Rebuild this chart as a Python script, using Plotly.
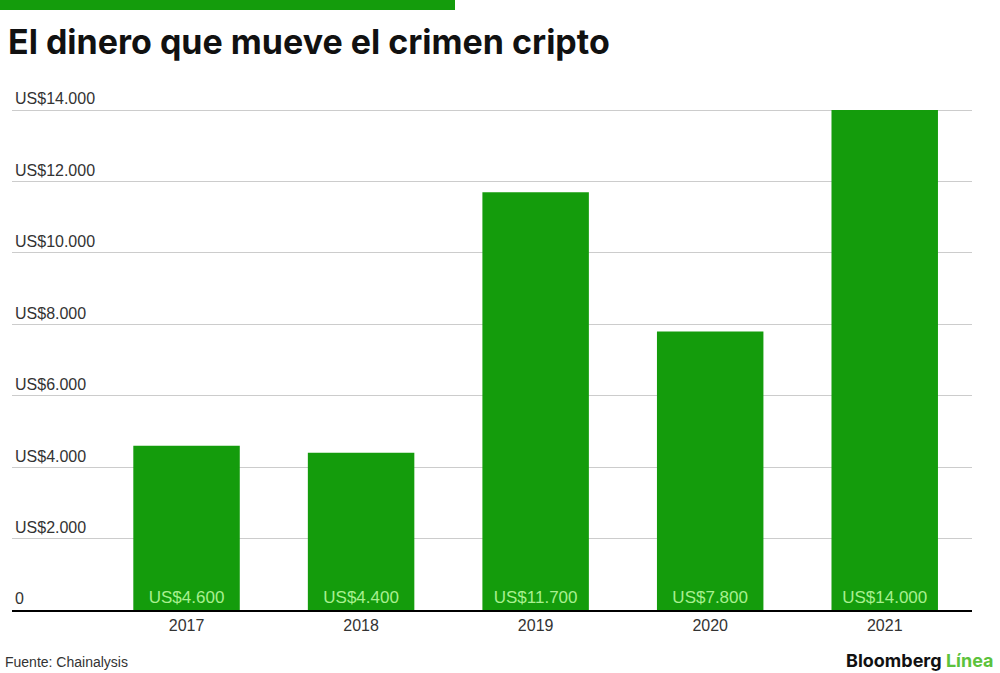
import plotly.graph_objects as go

# data
years = ["2017", "2018", "2019", "2020", "2021"]
amounts = [4600, 4400, 11700, 7800, 14000]
tick_values = [0, 2000, 4000, 6000, 8000, 10000, 12000, 14000]
tick_labels = ["0", "US$2.000", "US$4.000", "US$6.000", "US$8.000",
               "US$10.000", "US$12.000", "US$14.000"]

GREEN = "#149c0c"
W, H = 1000, 673
Y_TOP = 14700  # headroom so the top tick label (drawn above its line) shows
L, R, B = 12, 28, 63
T = round(110 - (Y_TOP - 14000) * 500 / 14000)
PW, PH = W - L - R, H - T - B


def px_x(x):
    return (x - L) / PW


def px_y(y):
    return (H - B - y) / PH


bar_text = ["US$" + f"{v:,}".replace(",", ".") for v in amounts]

fig = go.Figure(go.Bar(
    x=years, y=amounts, marker_color=GREEN, marker_line_width=0,
    width=0.61, text=bar_text, textposition="inside",
    insidetextanchor="start", textangle=0,
    textfont=dict(color="#a8f090", size=17, family="Liberation Sans"),
    cliponaxis=False, hoverinfo="skip",
))

fig.update_layout(
    width=W, height=H,
    margin=dict(l=L, r=R, t=T, b=B),
    paper_bgcolor="white", plot_bgcolor="white",
    showlegend=False, bargap=0.39,
    font=dict(family="Liberation Sans", color="#333333", size=16),
)

fig.update_xaxes(
    type="category", range=[-1, 4.5], showgrid=False,
    showline=True, linecolor="black", linewidth=2,
    ticks="", tickfont=dict(size=16, color="#333333"),
)

fig.update_yaxes(
    range=[0, Y_TOP], tickvals=tick_values, ticktext=tick_labels,
    ticklabelposition="inside top", showgrid=True, gridcolor="#cccccc",
    gridwidth=1, zeroline=False, showline=False,
    tickfont=dict(size=16, color="#333333"),
)

# green stripe at the top
fig.add_shape(type="rect", xref="paper", yref="paper",
              x0=px_x(0), x1=px_x(455), y0=px_y(10), y1=px_y(0),
              fillcolor=GREEN, line_width=0, layer="above")

fig.add_annotation(
    text="<b>El dinero que mueve el crimen cripto</b>",
    xref="paper", yref="paper", x=px_x(6), y=px_y(42),
    xanchor="left", yanchor="middle", showarrow=False,
    font=dict(family="Inter", size=34, color="#111111"),
)

fig.add_annotation(
    text="Fuente: Chainalysis",
    xref="paper", yref="paper", x=px_x(3), y=px_y(662),
    xanchor="left", yanchor="middle", showarrow=False,
    font=dict(family="Liberation Sans", size=14, color="#333333"),
)

fig.add_annotation(
    text="<b>Bloomberg <span style='color:#5cc23c'>Línea</span></b>",
    xref="paper", yref="paper", x=px_x(996), y=px_y(660),
    xanchor="right", yanchor="middle", showarrow=False,
    font=dict(family="Inter", size=18, color="#111111"),
)

# drop the page's default body margin so the figure sits at the top-left
fig.write_html("out.html", config={"displayModeBar": False},
               post_script="document.body.style.margin='0';")
